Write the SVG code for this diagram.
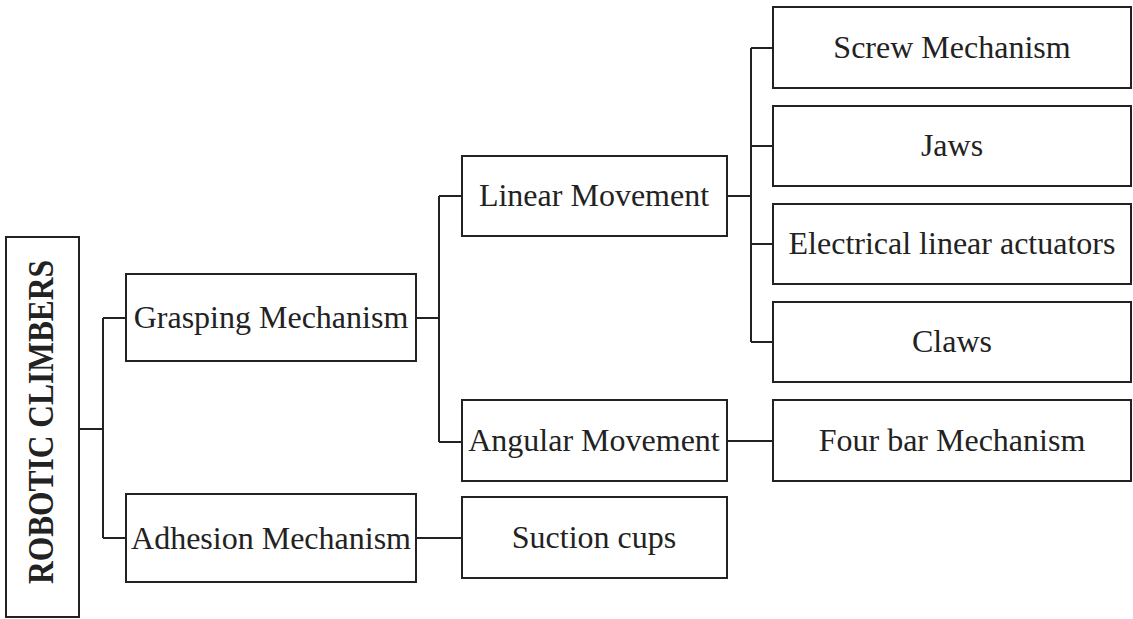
<svg xmlns="http://www.w3.org/2000/svg" width="1133" height="619" viewBox="0 0 1133 619">
<style>
.box{fill:#fff;stroke:#222;stroke-width:2}
.t{font-family:"Liberation Serif","Times New Roman",serif;font-size:32px;fill:#222;text-anchor:middle}
.root{font-family:"Liberation Serif","Times New Roman",serif;font-size:36px;font-weight:bold;fill:#222;text-anchor:middle}
.c{fill:none;stroke:#222;stroke-width:2}
</style>
<rect width="1133" height="619" fill="#fff"/>
<g id="connectors">
<path class="c" d="M79 429H103M103 318V538M103 318H126M103 538H126"/>
<path class="c" d="M416 318H439M439 196V442M439 196H462M439 442H462"/>
<path class="c" d="M416 538H462"/>
<path class="c" d="M727 196H751M751 48V342M751 48H773M751 146H773M751 244H773M751 342H773"/>
<path class="c" d="M727 441H773"/>
</g>
<g id="root"><rect class="box" x="6" y="237" width="73" height="380"/><text class="root" transform="translate(53,422) rotate(-90)" textLength="324" lengthAdjust="spacingAndGlyphs">ROBOTIC CLIMBERS</text></g>
<g id="grasping"><rect class="box" x="126" y="274" width="290" height="87"/><text class="t" x="271" y="328">Grasping Mechanism</text></g>
<g id="adhesion"><rect class="box" x="126" y="494" width="290" height="88"/><text class="t" x="271" y="549">Adhesion Mechanism</text></g>
<g id="linear"><rect class="box" x="462" y="156" width="265" height="80"/><text class="t" x="594" y="206">Linear Movement</text></g>
<g id="angular"><rect class="box" x="462" y="400" width="265" height="81"/><text class="t" x="594" y="451">Angular Movement</text></g>
<g id="suction"><rect class="box" x="462" y="497" width="265" height="81"/><text class="t" x="594" y="548">Suction cups</text></g>
<g id="screw"><rect class="box" x="773" y="7" width="358" height="81"/><text class="t" x="952" y="58">Screw Mechanism</text></g>
<g id="jaws"><rect class="box" x="773" y="106" width="358" height="80"/><text class="t" x="952" y="156">Jaws</text></g>
<g id="electrical"><rect class="box" x="773" y="204" width="358" height="80"/><text class="t" x="952" y="254">Electrical linear actuators</text></g>
<g id="claws"><rect class="box" x="773" y="302" width="358" height="80"/><text class="t" x="952" y="352">Claws</text></g>
<g id="fourbar"><rect class="box" x="773" y="400" width="358" height="81"/><text class="t" x="952" y="451">Four bar Mechanism</text></g>
</svg>
